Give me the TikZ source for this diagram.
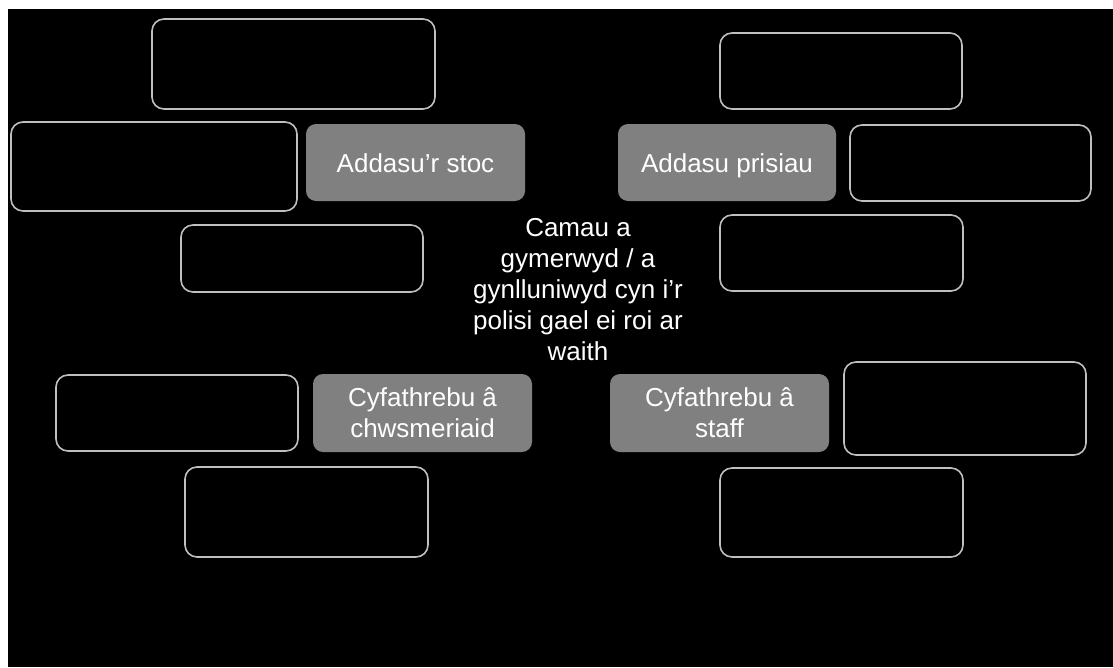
\documentclass[tikz,border=0pt]{standalone}
\usepackage{fontspec}
\setmainfont{Liberation Sans}
\usepackage{tikz}

\definecolor{boxline}{HTML}{BFBFBF}
\definecolor{boxfill}{HTML}{808080}

\begin{document}
\begin{tikzpicture}[x=1pt,y=-1pt]
    \tikzstyle{emptybox}=[draw=boxline, line width=1.6pt, rounded corners=12pt, inner sep=0pt]
    \tikzstyle{stepbox}=[fill=boxfill, rounded corners=10pt, inner sep=0pt, text=white, align=center, font=\fontsize{26}{31}\selectfont]
    \tikzstyle{oneline}=[text height=19pt, text depth=0pt]
    \tikzstyle{title}=[text=white, align=center, font=\fontsize{26}{31}\selectfont]

    % page and background
    \useasboundingbox (0,0) rectangle (1113,667);
    \fill[white] (0,0) rectangle (1113,667);
    \fill[black] (8,9) rectangle (1113,667);

    % grey steps
    \node[stepbox, oneline, minimum width=219pt, minimum height=77pt] (stoc) at (415.5,162.5) {Addasu’r stoc};
    \node[stepbox, oneline, minimum width=218pt, minimum height=77pt] (prisiau) at (727,162.5) {Addasu prisiau};
    \node[stepbox, minimum width=219pt, minimum height=78pt] (cwsmer) at (422.5,413) {Cyfathrebu â\\chwsmeriaid};
    \node[stepbox, minimum width=219pt, minimum height=78pt] (staff) at (719.5,413) {Cyfathrebu â\\staff};

    % centre text
    \node[title] (camau) at (578,290) {Camau a\\gymerwyd / a\\gynlluniwyd cyn i’r\\polisi gael ei roi ar\\waith};

    % left empty boxes
    \node[emptybox, minimum width=283pt, minimum height=90pt] (tl) at (293.5,64) {};
    \node[emptybox, minimum width=286pt, minimum height=89pt] (le) at (154,166.5) {};
    \node[emptybox, minimum width=242pt, minimum height=67pt] (ml) at (302,258.5) {};
    \node[emptybox, minimum width=242pt, minimum height=76pt] (ll) at (177,413) {};
    \node[emptybox, minimum width=243pt, minimum height=90pt] (bl) at (306.5,512) {};

    % right empty boxes
    \node[emptybox, minimum width=242pt, minimum height=76pt] (tr) at (841,71) {};
    \node[emptybox, minimum width=241pt, minimum height=76pt] (ri) at (970.5,163) {};
    \node[emptybox, minimum width=243pt, minimum height=76pt] (mr) at (841.5,253) {};
    \node[emptybox, minimum width=242pt, minimum height=93pt] (lr) at (965,408.5) {};
    \node[emptybox, minimum width=243pt, minimum height=89pt] (br) at (841.5,512.5) {};

\end{tikzpicture}
\end{document}
